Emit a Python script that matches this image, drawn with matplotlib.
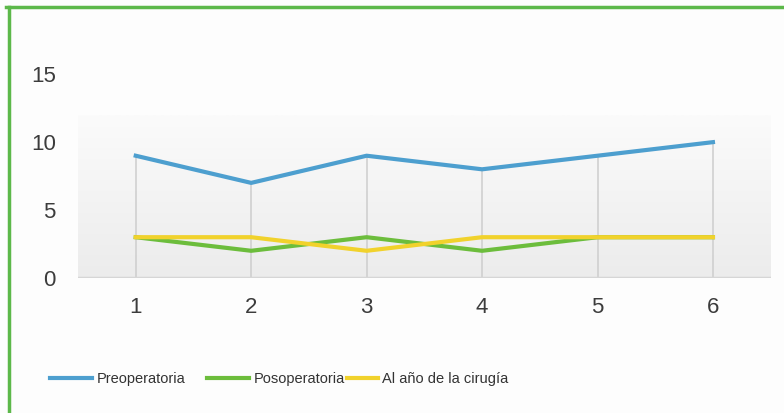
import numpy as np
import matplotlib
matplotlib.use("Agg")
import matplotlib.pyplot as plt
from matplotlib.lines import Line2D
from matplotlib.colors import LinearSegmentedColormap

plt.rcParams['font.family'] = ['Liberation Sans', 'DejaVu Sans']

x = [1, 2, 3, 4, 5, 6]
preoperatoria = [9, 7, 9, 8, 9, 10]
posoperatoria = [3, 2, 3, 2, 3, 3]
al_anio = [3, 3, 2, 3, 3, 3]
nombres = ["Preoperatoria", "Posoperatoria", "Al año de la cirugía"]
colores = ["#4d9fcf", "#6cbd3c", "#f1d22c"]

fig = plt.figure(figsize=(7.84, 4.13), dpi=100, facecolor="#fdfdfd")
ax = fig.add_axes([0.0995, 0.327, 0.8835, 0.559])
ax.set_facecolor("#fdfdfd")

# fondo degradado del area de trazado
cmap = LinearSegmentedColormap.from_list("fondo", ["#fbfbfb", "#ececec"])
grad = np.linspace(0, 1, 100).reshape(-1, 1)
ax.imshow(grad, extent=[0.5, 6.5, 0, 12], aspect='auto', cmap=cmap,
          origin='upper', zorder=0)

series = [preoperatoria, posoperatoria, al_anio]

# lineas de caida hasta el valor mas alto
tope = np.max(np.array(series), axis=0)
ax.vlines(x, 0, tope, color="#d0d0d0", lw=1.2, zorder=1)

lineas = []
for s, c, n in zip(series, colores, nombres):
    l, = ax.plot(x, s, color=c, lw=3, label=n, zorder=3)
    lineas.append(l)

ax.axhline(0, color="#d6d6d6", lw=2.5, zorder=2)

ax.set_xlim(0.5, 6.5)
ax.set_ylim(0, 17)
ax.set_xticks(x)
ax.set_yticks([0, 5, 10, 15])
for sp in ax.spines.values():
    sp.set_visible(False)
ax.tick_params(length=0, labelsize=16, labelcolor="#3c3c3c")
ax.tick_params(axis='x', pad=14)
ax.tick_params(axis='y', pad=16)

# leyenda, un elemento por posicion
pos_ley = [0.064, 0.264, 0.443]
largo = [2.9, 2.9, 2.1]
for l, px, hl in zip(lineas, pos_ley, largo):
    fig.legend(handles=[l], loc='center left', bbox_to_anchor=(px, 0.082),
               frameon=False, fontsize=10.5, handlelength=hl, handletextpad=0.3,
               labelcolor="#333333", borderpad=0, borderaxespad=0)

# borde verde arriba e izquierda
fig.add_artist(Line2D([0.008, 1.0], [0.983, 0.983], color="#5cb84a", lw=2.5,
                      transform=fig.transFigure))
fig.add_artist(Line2D([0.011, 0.011], [0.0, 0.983], color="#5cb84a", lw=2.5,
                      transform=fig.transFigure))

fig.savefig("out.png", dpi=100, facecolor=fig.get_facecolor())
